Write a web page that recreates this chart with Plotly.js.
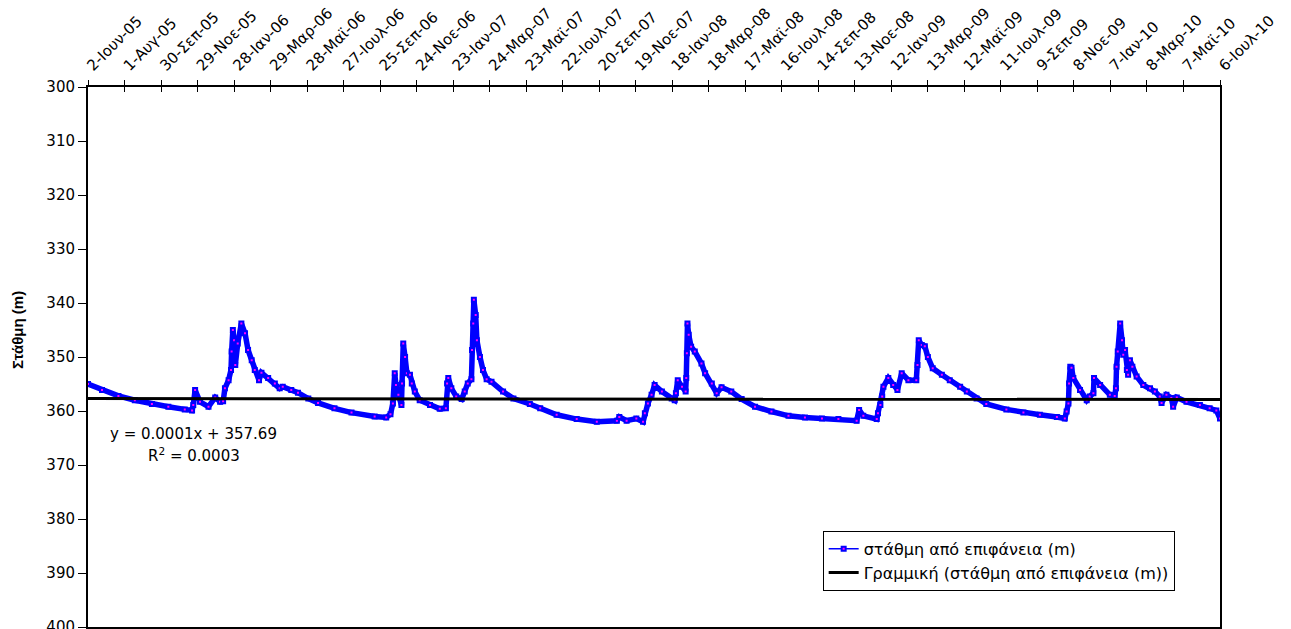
<!DOCTYPE html>
<html>
<head>
<meta charset="utf-8">
<script src="https://cdn.plot.ly/plotly-3.0.1.min.js"></script>
<style>html,body{margin:0;padding:0;background:#fff;}#chart{width:1291px;height:629px;}</style>
</head>
<body>
<div id="chart"></div>
<script>
// Measurement dates
const dates = [
'2005-06-02','2005-06-25','2005-07-22','2005-08-18','2005-09-15','2005-10-12','2005-11-08','2005-11-20','2005-11-22','2005-11-25',
'2005-12-03','2005-12-17','2005-12-28','2006-01-05','2006-01-10','2006-01-13','2006-01-19',
'2006-01-23','2006-01-24','2006-01-26','2006-01-28','2006-01-30','2006-02-03','2006-02-09',
'2006-02-15','2006-02-20','2006-02-26','2006-03-03','2006-03-10','2006-03-14','2006-03-25',
'2006-04-05','2006-04-13','2006-04-18','2006-05-02','2006-05-13','2006-05-30','2006-06-15','2006-07-12','2006-08-09','2006-09-16',
'2006-10-05','2006-10-12','2006-10-16','2006-10-19','2006-10-21','2006-10-25','2006-10-30','2006-10-31','2006-11-02','2006-11-05',
'2006-11-08','2006-11-13','2006-11-16','2006-11-21','2006-11-29','2006-12-16','2007-01-01','2007-01-11','2007-01-13','2007-01-15',
'2007-01-20','2007-01-28','2007-02-06','2007-02-11','2007-02-16','2007-02-22','2007-02-23','2007-02-25','2007-02-26','2007-03-01',
'2007-03-03','2007-03-08','2007-03-13','2007-03-19','2007-03-27','2007-04-15','2007-05-02','2007-05-29','2007-06-15','2007-07-12',
'2007-08-14','2007-09-16','2007-10-19','2007-10-23','2007-11-04','2007-11-20','2007-12-01','2007-12-04','2007-12-09','2007-12-15',
'2007-12-20','2008-01-01','2008-01-17','2008-01-22','2008-01-24','2008-01-27','2008-02-03','2008-02-09','2008-02-10','2008-02-11',
'2008-02-12','2008-02-14','2008-02-18','2008-02-24','2008-03-06','2008-03-12','2008-03-23','2008-03-31','2008-04-08','2008-04-24',
'2008-05-11','2008-06-02','2008-06-29','2008-07-27','2008-08-23','2008-09-20','2008-10-17','2008-11-16','2008-11-20','2008-11-27',
'2008-12-19','2008-12-21','2008-12-25','2008-12-28','2008-12-30','2009-01-07','2009-01-15','2009-01-22','2009-01-29','2009-02-09',
'2009-02-22','2009-02-24','2009-02-26','2009-03-03','2009-03-08','2009-03-13','2009-03-21','2009-04-05','2009-04-18','2009-05-05',
'2009-05-16','2009-06-01','2009-06-17','2009-07-20','2009-08-17','2009-09-13','2009-10-11','2009-10-24','2009-10-27','2009-10-30',
'2009-10-31','2009-11-02','2009-11-04','2009-11-07','2009-11-18','2009-11-29','2009-12-04','2009-12-10','2009-12-11','2009-12-21',
'2010-01-06','2010-01-14','2010-01-16','2010-01-17','2010-01-19','2010-01-23','2010-01-26','2010-01-28','2010-01-31','2010-02-03',
'2010-02-05','2010-02-08','2010-02-12','2010-02-19','2010-03-02','2010-03-13','2010-03-21','2010-03-29','2010-04-01','2010-04-09',
'2010-04-17','2010-04-20','2010-04-26','2010-05-12','2010-06-03','2010-06-19','2010-06-30','2010-07-06'
];
// Στάθμη από επιφάνεια (m)
const levels = [
355.0,356.1,357.2,358.0,358.7,359.2,359.7,359.9,358.9,356.1,
358.3,359.2,357.5,358.3,358.2,355.8,354.3,
352.4,349.0,345.0,346.9,351.5,347.5,343.8,
345.6,348.7,350.6,352.4,354.3,352.9,353.9,
354.9,355.8,355.5,356.1,356.6,357.7,358.5,359.5,360.3,361.0,
361.2,360.6,358.6,353.0,355.2,357.0,358.9,354.9,347.5,350.0,
353.0,353.3,354.9,356.4,358.0,358.9,359.6,359.5,354.9,353.9,
355.8,357.3,357.8,356.4,354.9,354.1,348.7,343.8,339.4,342.2,
346.9,350.0,352.4,354.1,354.6,356.4,357.7,358.7,359.5,360.7,
361.5,362.0,361.8,361.1,361.8,361.4,362.0,360.4,358.6,357.0,
355.2,356.4,357.7,358.0,356.7,354.3,355.5,356.4,353.9,349.3,
343.8,345.9,348.1,349.0,351.2,353.0,354.9,356.7,355.6,356.4,
357.8,359.2,360.1,360.9,361.2,361.4,361.5,361.8,359.8,360.9,
361.5,360.4,358.9,357.3,355.5,353.9,355.2,356.1,353.0,354.3,
354.3,351.5,346.9,347.8,348.0,350.0,352.1,353.3,354.3,355.5,
356.4,357.7,358.7,359.7,360.3,360.7,361.1,361.4,360.1,358.6,
354.9,351.8,352.0,353.9,356.1,358.0,357.3,356.7,353.9,355.2,
357.0,357.2,355.8,351.8,349.0,343.8,346.9,349.6,348.7,352.4,
353.3,350.6,351.8,353.6,355.2,355.8,356.4,357.3,358.5,357.0,
357.6,359.2,357.5,358.3,358.9,359.5,359.9,361.4
];
// Linear trend (as shown on the chart): y = 0.0001x + 357.69, x = day index
const trendSlope = 0.0001;
const trendIntercept = 357.69;
const startDate = '2005-06-02';
const endDate = '2010-07-06';

// x-axis tick positions and labels
const tickDates = ['2005-06-02','2005-08-01','2005-09-30','2005-11-29','2006-01-28','2006-03-29','2006-05-28','2006-07-27',
'2006-09-25','2006-11-24','2007-01-23','2007-03-24','2007-05-23','2007-07-22','2007-09-20','2007-11-19',
'2008-01-18','2008-03-18','2008-05-17','2008-07-16','2008-09-14','2008-11-13','2009-01-12','2009-03-13',
'2009-05-12','2009-07-11','2009-09-09','2009-11-08','2010-01-07','2010-03-08','2010-05-07','2010-07-06'];
const tickLabels = ['2-Ιουν-05','1-Αυγ-05','30-Σεπ-05','29-Νοε-05','28-Ιαν-06','29-Μαρ-06','28-Μαϊ-06','27-Ιουλ-06',
'25-Σεπ-06','24-Νοε-06','23-Ιαν-07','24-Μαρ-07','23-Μαϊ-07','22-Ιουλ-07','20-Σεπ-07','19-Νοε-07',
'18-Ιαν-08','18-Μαρ-08','17-Μαϊ-08','16-Ιουλ-08','14-Σεπ-08','13-Νοε-08','12-Ιαν-09','13-Μαρ-09',
'12-Μαϊ-09','11-Ιουλ-09','9-Σεπ-09','8-Νοε-09','7-Ιαν-10','8-Μαρ-10','7-Μαϊ-10','6-Ιουλ-10'];
const yTicks = [300,310,320,330,340,350,360,370,380,390,400];

const seriesName = 'στάθμη από επιφάνεια (m)';
const trendName = 'Γραμμική (στάθμη από επιφάνεια (m))';

const nDays = Math.round((new Date(endDate) - new Date(startDate)) / 86400000) + 1;
const trendX = [startDate, endDate];
const trendY = [trendIntercept + trendSlope * 1, trendIntercept + trendSlope * nDays];

const FONT = 'DejaVu Sans, Verdana, sans-serif';
const markerStyle = {symbol: 'square', size: 4, color: '#ff00ff', line: {color: '#0000ff', width: 2}};

const traces = [
  {x: dates, y: levels, type: 'scatter', mode: 'lines+markers', showlegend: false,
   line: {color: '#0000ff', width: 5.5}, marker: {symbol: 'square', size: 4, color: '#ff00ff', line: {color: '#0000ff', width: 2}}, name: seriesName},
  {x: [dates[0]], y: [levels[0]], xaxis: 'x2', type: 'scatter', mode: 'lines+markers', name: seriesName,
   line: {color: '#0000ff', width: 1.5}, marker: markerStyle},
  {x: trendX, y: trendY, type: 'scatter', mode: 'lines', name: trendName,
   line: {color: '#000000', width: 3}}
];

const layout = {
  width: 1291, height: 629,
  margin: {l: 88, r: 71, t: 87, b: 2, pad: 0},
  paper_bgcolor: '#ffffff', plot_bgcolor: '#ffffff',
  font: {family: FONT, size: 15, color: '#000'},
  xaxis: {
    type: 'date', side: 'top', range: [startDate, endDate],
    tickmode: 'array', tickvals: tickDates, ticktext: tickLabels, tickangle: -45,
    ticks: 'outside', ticklen: 5, tickwidth: 1, tickcolor: '#000',
    showline: true, linewidth: 2, linecolor: '#000', mirror: true, ticklabeloverflow: 'allow',
    showgrid: false, zeroline: false, tickfont: {family: FONT, size: 15, color: '#000'}
  },
  xaxis2: {
    type: 'date', overlaying: 'x', side: 'top', anchor: 'y', range: [startDate, endDate],
    tickmode: 'array', tickvals: tickDates, ticks: 'inside', ticklen: 5, tickwidth: 1, tickcolor: '#000',
    showticklabels: false, showline: false, showgrid: false, zeroline: false
  },
  yaxis: {
    range: [400, 300], tickmode: 'array', tickvals: yTicks,
    ticks: 'outside', ticklen: 8, tickwidth: 1, tickcolor: '#000', ticklabeloverflow: 'allow',
    showline: true, linewidth: 2, linecolor: '#000', mirror: true,
    showgrid: false, zeroline: false, tickfont: {family: FONT, size: 15, color: '#000'}
  },
  showlegend: true,
  legend: {
    x: 0.649, y: 0.178, xanchor: 'left', yanchor: 'top',
    bgcolor: '#ffffff', bordercolor: '#000', borderwidth: 1,
    font: {family: FONT, size: 16, color: '#000'}, tracegroupgap: 0
  },
  annotations: [
    {xref: 'paper', yref: 'paper', x: -0.0627, y: 0.55, xanchor: 'center', yanchor: 'middle',
     text: '<b>Στάθμη (m)</b>', textangle: -90, showarrow: false, font: {family: 'Liberation Sans, Arial, sans-serif', size: 15, color: '#000'}},
    {xref: 'paper', yref: 'paper', x: 0.0936, y: 0.357, xanchor: 'center', yanchor: 'middle',
     text: 'y = 0.0001x + 357.69', showarrow: false, font: {family: FONT, size: 15, color: '#000'}},
    {xref: 'paper', yref: 'paper', x: 0.0936, y: 0.3185, xanchor: 'center', yanchor: 'middle',
     text: 'R<sup>2</sup> = 0.0003', showarrow: false, font: {family: FONT, size: 15, color: '#000'}}
  ]
};

Plotly.newPlot('chart', traces, layout, {displayModeBar: false, staticPlot: true});
</script>
</body>
</html>
